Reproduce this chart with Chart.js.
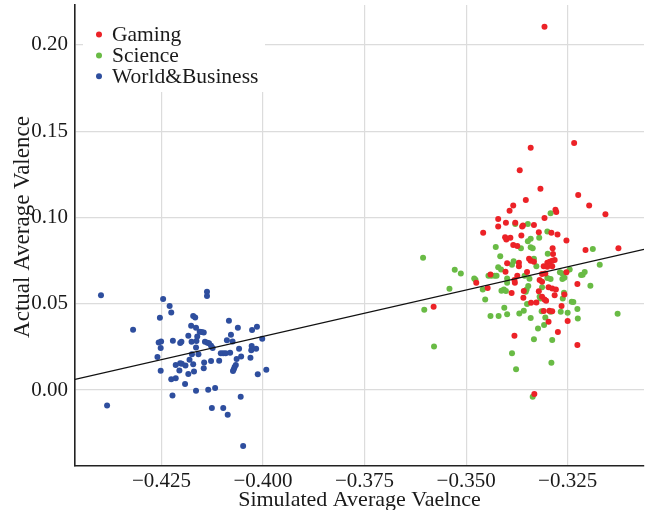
<!DOCTYPE html>
<html>
<head>
<meta charset="utf-8">
<script src="https://cdn.jsdelivr.net/npm/chart.js@4.4.1/dist/chart.umd.min.js"></script>
<style>
  html, body { margin: 0; padding: 0; background: #ffffff; }
  #wrap { width: 648px; height: 510px; }
</style>
</head>
<body>
<div id="wrap"><canvas id="c" width="648" height="510"></canvas></div>
<script>
// ---------- data ----------
const seriesNames = ['Gaming', 'Science', 'World&Business'];

const gamingX = [-0.3307,-0.3234,-0.3341,-0.3368,-0.3317,-0.3224,-0.3197,-0.3157,-0.3353,-0.3384,
  -0.3393,-0.3421,-0.3421,-0.3402,-0.3458,-0.3379,-0.3360,-0.3362,-0.3333,-0.3307,
  -0.3280,-0.3278,-0.3321,-0.3290,-0.3275,-0.3253,-0.3404,-0.3401,-0.3391,-0.3364,
  -0.3384,-0.3374,-0.3287,-0.3206,-0.3125,-0.3286,-0.3282,-0.3370,-0.3370,-0.3399,
  -0.3345,-0.3341,-0.3333,-0.3300,-0.3294,-0.3288,-0.3309,-0.3300,-0.3288,-0.3403,
  -0.3440,-0.3374,-0.3350,-0.3313,-0.3305,-0.3253,-0.3475,-0.3381,-0.3380,-0.3319,
  -0.3313,-0.3447,-0.3388,-0.3358,-0.3321,-0.3297,-0.3288,-0.3279,-0.3226,-0.3359,
  -0.3313,-0.3307,-0.3303,-0.3282,-0.3258,-0.3340,-0.3327,-0.3265,-0.3580,-0.3309,
  -0.3295,-0.3288,-0.3297,-0.3250,-0.3274,-0.3381,-0.3226,-0.3332];
const gamingY = [0.2105,0.1431,0.1404,0.1273,0.1166,0.1130,0.1070,0.1018,0.1101,0.1070,
  0.1039,0.0991,0.0948,0.0969,0.0911,0.0969,0.0954,0.0948,0.0956,0.0997,
  0.1045,0.1031,0.0914,0.0911,0.0902,0.0867,0.0885,0.0873,0.0882,0.0896,
  0.0840,0.0834,0.0821,0.0811,0.0822,0.0788,0.0753,0.0738,0.0718,0.0734,
  0.0761,0.0749,0.0743,0.0738,0.0743,0.0749,0.0718,0.0714,0.0718,0.0685,
  0.0670,0.0662,0.0684,0.0672,0.0676,0.0682,0.0622,0.0637,0.0622,0.0637,
  0.0627,0.0591,0.0562,0.0574,0.0572,0.0595,0.0589,0.0583,0.0614,0.0535,
  0.0541,0.0525,0.0517,0.0550,0.0554,0.0506,0.0508,0.0487,0.0483,0.0458,
  0.0459,0.0456,0.0396,0.0400,0.0336,0.0315,0.0261,-0.0023];

const scienceX = [-0.3292,-0.3379,-0.3348,-0.3300,-0.3320,-0.3341,-0.3348,-0.3427,-0.3365,-0.3341,
  -0.3336,-0.3188,-0.3606,-0.3528,-0.3513,-0.3541,-0.3603,-0.3579,-0.3480,-0.3477,
  -0.3459,-0.3453,-0.3445,-0.3438,-0.3430,-0.3425,-0.3421,-0.3414,-0.3416,-0.3383,
  -0.3387,-0.3299,-0.3333,-0.3327,-0.3399,-0.3399,-0.3413,-0.3407,-0.3402,-0.3356,
  -0.3344,-0.3351,-0.3353,-0.3347,-0.3319,-0.3317,-0.3313,-0.3300,-0.3292,-0.3269,
  -0.3263,-0.3263,-0.3258,-0.3245,-0.3259,-0.3262,-0.3240,-0.3236,-0.3217,-0.3213,
  -0.3208,-0.3194,-0.3171,-0.3127,-0.3350,-0.3406,-0.3440,-0.3420,-0.3399,-0.3369,
  -0.3358,-0.3341,-0.3314,-0.3305,-0.3292,-0.3267,-0.3250,-0.3226,-0.3225,-0.3308,
  -0.3323,-0.3333,-0.3288,-0.3387,-0.3377,-0.3290,-0.3336];
const scienceY = [0.1024,0.0962,0.0962,0.0919,0.0882,0.0877,0.0862,0.0829,0.0821,0.0827,
  0.0821,0.0817,0.0767,0.0697,0.0676,0.0587,0.0465,0.0253,0.0647,0.0639,
  0.0583,0.0525,0.0662,0.0662,0.0662,0.0662,0.0711,0.0699,0.0775,0.0747,
  0.0726,0.0790,0.0761,0.0717,0.0647,0.0622,0.0575,0.0583,0.0574,0.0662,
  0.0645,0.0583,0.0570,0.0603,0.0541,0.0531,0.0595,0.0649,0.0643,0.0682,
  0.0676,0.0643,0.0651,0.0699,0.0564,0.0531,0.0512,0.0510,0.0666,0.0668,
  0.0684,0.0604,0.0726,0.0442,0.0498,0.0477,0.0429,0.0429,0.0439,0.0444,
  0.0459,0.0417,0.0456,0.0421,0.0454,0.0454,0.0448,0.0469,0.0415,0.0377,
  0.0357,0.0294,0.0290,0.0213,0.0120,0.0158,-0.0039];

const worldX = [-0.4399,-0.4384,-0.4320,-0.4246,-0.4230,-0.4226,-0.4254,-0.4257,-0.4251,-0.4252,
  -0.4260,-0.4252,-0.4222,-0.4204,-0.4201,-0.4226,-0.4215,-0.4223,-0.4215,-0.4204,
  -0.4200,-0.4206,-0.4191,-0.4192,-0.4184,-0.4181,-0.4172,-0.4170,-0.4175,-0.4176,
  -0.4184,-0.4177,-0.4172,-0.4167,-0.4165,-0.4162,-0.4164,-0.4165,-0.4159,-0.4156,
  -0.4151,-0.4146,-0.4143,-0.4137,-0.4133,-0.4128,-0.4124,-0.4145,-0.4146,-0.4128,
  -0.4165,-0.4135,-0.4118,-0.4138,-0.4138,-0.4126,-0.4108,-0.4104,-0.4098,-0.4092,
  -0.4081,-0.4089,-0.4075,-0.4079,-0.4084,-0.4062,-0.4059,-0.4054,-0.4065,-0.4067,
  -0.4070,-0.4072,-0.4074,-0.4098,-0.4087,-0.4055,-0.4049,-0.4031,-0.4029,-0.4028,
  -0.4017,-0.4027,-0.4015,-0.4002,-0.4013,-0.3992];
const worldY = [0.0549,-0.0089,0.0349,0.0527,0.0487,0.0450,0.0419,0.0276,0.0282,0.0243,
  0.0191,0.0112,0.0286,0.0272,0.0280,0.0062,0.0068,-0.0031,0.0145,0.0156,
  0.0152,0.0114,0.0143,0.0035,0.0093,0.0176,0.0149,0.0108,0.0207,0.0280,
  0.0315,0.0373,0.0429,0.0421,0.0361,0.0311,0.0284,0.0247,0.0207,0.0338,
  0.0336,0.0334,0.0280,0.0274,0.0271,0.0257,0.0243,0.0160,0.0127,0.0168,
  -0.0004,0.0002,0.0012,0.0570,0.0545,-0.0104,0.0170,0.0213,0.0213,0.0213,
  0.0216,0.0288,0.0282,0.0320,0.0402,0.0361,0.0239,0.0195,0.0180,0.0145,
  0.0133,0.0120,0.0110,-0.0104,-0.0143,-0.0039,-0.0324,0.0187,0.0230,0.0255,
  0.0239,0.0348,0.0367,0.0297,0.0091,0.0118];

// fitted regression line endpoints (data units)
const fitX = [-0.4463, -0.3062];
const fitY = [0.0062, 0.0815];

// axis ranges & tick values
const xRange = [-0.4463, -0.3062];
const yRange = [-0.0440, 0.2231];
const xTicks = [-0.425, -0.400, -0.375, -0.350, -0.325];
const yTicks = [0.00, 0.05, 0.10, 0.15, 0.20];

const xTitle = 'Simulated Average Vaelnce';
const yTitle = 'Actual Average Valence';

// ---------- styling ----------
const COLORS = ['#ec2227', '#69bb45', '#2e4e9e'];
const FONT = '"Liberation Serif", "Times New Roman", serif';
const TXT = '#1a1a1a';

function pts(xs, ys) { return xs.map((x, i) => ({ x: x, y: ys[i] })); }
const fmt = (v, d) => (v < 0 ? '\u2212' : '') + Math.abs(v).toFixed(d);

const legendPlugin = {
  id: 'insideLegend',
  beforeDatasetsDraw(chart) {
    const ctx = chart.ctx;
    const top = chart.chartArea.top;
    ctx.save();
    ctx.fillStyle = '#ffffff';
    ctx.fillRect(83, top, 182, 92 - top);
    ctx.font = '21.5px ' + FONT;
    ctx.textBaseline = 'alphabetic';
    ctx.textAlign = 'left';
    const ys = [34.5, 55.5, 76.3];
    seriesNames.forEach((name, i) => {
      ctx.fillStyle = COLORS[i];
      ctx.beginPath();
      ctx.arc(99, ys[i], 3, 0, Math.PI * 2);
      ctx.fill();
      ctx.fillStyle = TXT;
      ctx.fillText(name, 112, ys[i] + 6.3);
    });
    ctx.restore();
  },
  afterDraw(chart) {
    // y-axis title
    const ctx = chart.ctx;
    ctx.save();
    ctx.translate(23, 227);
    ctx.rotate(-Math.PI / 2);
    ctx.font = '23px ' + FONT;
    ctx.fillStyle = TXT;
    ctx.textAlign = 'center';
    ctx.textBaseline = 'middle';
    ctx.fillText(yTitle, 0, 0);
    ctx.restore();
  }
};

const mk = (i, xs, ys) => ({
  label: seriesNames[i],
  data: pts(xs, ys),
  backgroundColor: COLORS[i],
  borderColor: COLORS[i],
  borderWidth: 0,
  pointRadius: 3,
  pointHoverRadius: 3,
  order: i + 1
});

new Chart(document.getElementById('c'), {
  type: 'scatter',
  data: {
    datasets: [
      {
        type: 'line',
        label: 'fit',
        data: pts(fitX, fitY),
        borderColor: '#111111',
        borderWidth: 1.2,
        pointRadius: 0,
        fill: false,
        order: 0
      },
      mk(0, gamingX, gamingY),
      mk(1, scienceX, scienceY),
      mk(2, worldX, worldY)
    ]
  },
  options: {
    responsive: false,
    animation: false,
    devicePixelRatio: 1,
    layout: { padding: { top: 5, right: 4, left: 0, bottom: 0 } },
    plugins: { legend: { display: false }, tooltip: { enabled: false } },
    scales: {
      x: {
        type: 'linear',
        position: 'bottom',
        min: xRange[0],
        max: xRange[1],
        afterBuildTicks: s => { s.ticks = xTicks.map(v => ({ value: v })); },
        afterFit: s => { s.height = 44; s.paddingLeft = 0; s.paddingRight = 0; },
        grid: { color: '#dcdcdc', lineWidth: 1.2, drawTicks: false },
        border: { display: true, color: '#222222', width: 1.6 },
        ticks: {
          padding: 3, autoSkip: false, maxRotation: 0, color: TXT,
          font: { family: FONT, size: 21 },
          callback: v => fmt(v, 3)
        },
        title: {
          display: true, text: xTitle, color: TXT,
          font: { family: FONT, size: 22 },
          padding: { top: 0, bottom: -3 }
        }
      },
      y: {
        type: 'linear',
        position: 'left',
        min: yRange[0],
        max: yRange[1],
        afterBuildTicks: s => { s.ticks = yTicks.map(v => ({ value: v })); },
        afterFit: s => { s.width = 75; s.paddingTop = 0; s.paddingBottom = 0; },
        grid: { color: '#dcdcdc', lineWidth: 1.2, drawTicks: false },
        border: { display: true, color: '#222222', width: 1.6 },
        ticks: {
          padding: 7, autoSkip: false, color: TXT,
          font: { family: FONT, size: 21 },
          callback: v => fmt(v, 2)
        },
        title: { display: false }
      }
    }
  },
  plugins: [legendPlugin]
});
</script>
</body>
</html>
